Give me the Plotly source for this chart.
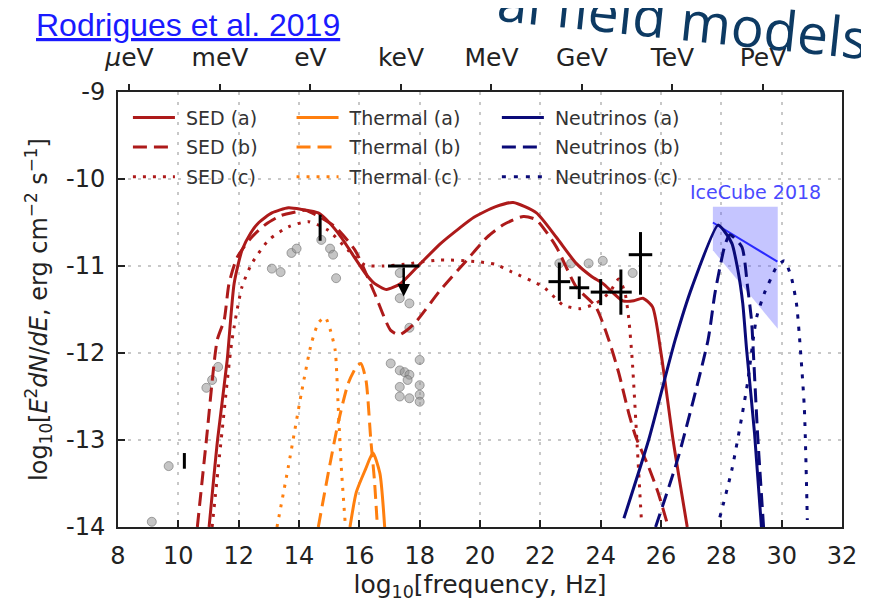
import plotly.graph_objects as go

# ---------------- data ----------------
sed_a_x = [11.02, 11.3, 11.62, 11.85, 12.11, 12.4, 12.67, 13.1, 13.65, 14.1, 14.64, 15.0, 15.4, 15.8, 16.19, 16.5, 16.9, 17.37, 18.03, 18.7, 19.3, 19.8, 20.5, 21.1, 21.87, 22.53, 23.19, 23.7, 24.07, 24.73, 25.1, 25.4, 25.72, 26.0, 26.4, 26.87]
sed_a_y = [-14.0, -13.0, -12.08, -11.2, -10.82, -10.62, -10.5, -10.39, -10.33, -10.35, -10.39, -10.5, -10.67, -10.88, -11.08, -11.2, -11.27, -11.2, -10.97, -10.74, -10.57, -10.44, -10.32, -10.27, -10.39, -10.67, -10.97, -11.12, -11.2, -11.4, -11.4, -11.37, -11.47, -12.0, -13.0, -14.0]

sed_b_x = [10.63, 10.93, 11.29, 11.52, 11.68, 11.95, 12.4, 12.9, 13.4, 13.88, 14.2, 14.6, 15.2, 15.86, 16.5, 17.04, 17.33, 17.83, 18.68, 19.57, 20.23, 20.8, 21.44, 21.87, 22.53, 23.19, 23.84, 24.27, 24.6, 24.93, 25.16, 25.59, 25.9, 26.2]
sed_b_y = [-14.0, -13.0, -11.85, -11.62, -11.2, -10.9, -10.68, -10.52, -10.42, -10.38, -10.36, -10.42, -10.55, -10.82, -11.31, -11.74, -11.79, -11.66, -11.28, -10.93, -10.67, -10.52, -10.43, -10.47, -10.78, -11.24, -11.47, -11.85, -12.23, -12.69, -12.96, -13.31, -13.6, -13.95]

sed_c_x = [11.12, 11.45, 11.78, 12.11, 12.44, 13.0, 13.65, 14.31, 14.97, 15.63, 16.19, 16.8, 17.5, 18.68, 19.9, 20.5, 21.0, 22.1, 22.76, 23.3, 23.84, 24.3, 24.6, 24.8, 24.93, 25.05, 25.2, 25.35]
sed_c_y = [-14.0, -12.9, -11.85, -11.24, -10.97, -10.7, -10.55, -10.49, -10.59, -10.82, -10.99, -11.0, -10.98, -10.93, -10.95, -10.98, -11.06, -11.24, -11.45, -11.49, -11.43, -11.3, -11.15, -11.3, -11.6, -12.1, -13.0, -13.92]

th_a_x = [15.69, 15.9, 16.2, 16.45, 16.68, 16.84]
th_a_y = [-14.0, -13.6, -13.34, -13.15, -13.38, -14.0]

th_b_x = [14.64, 14.97, 15.3, 15.63, 15.9, 16.05, 16.22, 16.38, 16.5, 16.6]
th_b_y = [-14.0, -13.38, -12.8, -12.35, -12.16, -12.12, -12.31, -13.0, -13.46, -14.0]

th_c_x = [13.27, 13.65, 14.08, 14.41, 14.65, 14.87, 15.05, 15.2, 15.3, 15.4, 15.53]
th_c_y = [-14.0, -13.3, -12.46, -11.89, -11.65, -11.59, -11.75, -11.97, -12.62, -13.3, -13.95]

nu_a_x = [24.77, 25.59, 26.47, 27.03, 27.89, 28.1, 28.35, 28.55, 28.71, 28.84, 29.1, 29.33]
nu_a_y = [-13.9, -13.0, -11.85, -11.24, -10.53, -10.6, -10.74, -11.05, -11.43, -11.97, -12.92, -14.0]

nu_b_x = [25.82, 26.57, 27.56, 27.79, 28.12, 28.28, 28.68, 28.87, 29.0, 29.04, 29.2, 29.4]
nu_b_y = [-14.0, -13.2, -11.85, -11.31, -10.76, -10.64, -10.78, -11.24, -11.62, -11.85, -12.92, -14.0]

nu_c_x = [27.95, 28.35, 28.68, 28.87, 29.17, 29.43, 29.66, 29.83, 30.09, 30.32, 30.49, 30.58, 30.75, 30.85]
nu_c_y = [-13.89, -13.34, -12.73, -12.34, -11.59, -11.31, -11.13, -11.01, -10.94, -11.13, -11.43, -11.77, -12.62, -13.92]

icecube_band_x = [27.72, 29.87, 29.87, 27.72, 27.72]
icecube_band_y = [-10.32, -10.32, -11.72, -10.82, -10.32]
icecube_fit_x = [27.72, 29.86]
icecube_fit_y = [-10.5, -10.95]

cross_x = [22.63, 23.29, 24.0, 24.67, 25.32]
cross_y = [-11.18, -11.25, -11.3, -11.3, -10.87]
cross_xerr = [0.36, 0.33, 0.33, 0.36, 0.39]
cross_yerr_up = [0.22, 0.13, 0.15, 0.26, 0.26]
cross_yerr_dn = [0.22, 0.13, 0.15, 0.26, 0.46]

bar_x = [10.2, 14.7]
bar_y = [-13.24, -10.56]
bar_yerr = [0.09, 0.15]

ul_x = [17.47]
ul_y = [-11.0]
ul_xerr = [0.52]
ul_arrow_end = [-11.35]

gray_x = [9.12, 9.68, 10.93, 11.12, 11.32, 13.1, 13.39, 13.75, 13.92, 14.74, 15.03, 15.13, 15.23,
          17.34, 17.34, 17.66, 17.66, 17.04, 17.34, 17.5, 17.66, 17.6, 18.0, 17.34, 18.0, 17.34, 17.66, 18.0, 18.0,
          22.63, 23.02, 23.6, 24.07, 25.06]
gray_y = [-13.94, -13.3, -12.4, -12.31, -12.16, -11.03, -11.07, -10.85, -10.8, -10.7, -10.8, -10.87, -11.14,
          -11.08, -11.37, -11.43, -11.71, -12.12, -12.2, -12.22, -12.25, -12.31, -12.08, -12.39, -12.37, -12.5, -12.52, -12.48, -12.56,
          -10.97, -10.97, -10.97, -10.94, -11.08]

energy_pos = [8.38, 11.38, 14.38, 17.38, 20.38, 23.38, 26.38, 29.38]
energy_lbl = ["<i>μ</i>eV", "meV", "eV", "keV", "MeV", "GeV", "TeV", "PeV"]

x_ticks = list(range(8, 33, 2))
y_ticks = [-9, -10, -11, -12, -13, -14]
y_ticklbl = ["-9", "-10", "-11", "-12", "-13", "-14"]

# ---------------- styles ----------------
RED = "#ad1a1a"
ORANGE = "#ff7f0e"
NAVY = "#0a0a78"
DASH = "14px,7px"
DOT = "3px,7px"
FONT = "DejaVu Sans"
SP = "&nbsp;"

fig = go.Figure()

fig.add_trace(go.Scatter(x=icecube_band_x, y=icecube_band_y, mode="lines", fill="toself",
                         fillcolor="rgba(90,90,255,0.35)", line=dict(width=0), showlegend=False, hoverinfo="skip"))
fig.add_trace(go.Scatter(x=icecube_fit_x, y=icecube_fit_y, mode="lines",
                         line=dict(color="#2a2aff", width=2), showlegend=False))

fig.add_trace(go.Scatter(x=gray_x, y=gray_y, mode="markers", showlegend=False,
                         marker=dict(size=9, color="rgba(140,140,140,0.5)",
                                     line=dict(color="rgba(110,110,110,0.6)", width=1))))

def line(x, y, color, dash, name, legend, group):
    fig.add_trace(go.Scatter(x=x, y=y, mode="lines", name=SP + name, legend=legend, legendgroup=group,
                             line=dict(color=color, width=3, dash=dash, shape="spline", smoothing=0.6)))

line(sed_a_x, sed_a_y, RED, "solid", "SED (a)", "legend", "sa")
line(sed_b_x, sed_b_y, RED, DASH, "SED (b)", "legend", "sb")
line(sed_c_x, sed_c_y, RED, DOT, "SED (c)", "legend", "sc")
line(th_a_x, th_a_y, ORANGE, "solid", "Thermal (a)", "legend2", "ta")
line(th_b_x, th_b_y, ORANGE, DASH, "Thermal (b)", "legend2", "tb")
line(th_c_x, th_c_y, ORANGE, DOT, "Thermal (c)", "legend2", "tc")
line(nu_a_x, nu_a_y, NAVY, "solid", "Neutrinos (a)", "legend3", "na")
line(nu_b_x, nu_b_y, NAVY, DASH, "Neutrinos (b)", "legend3", "nb")
line(nu_c_x, nu_c_y, NAVY, "4px,8px", "Neutrinos (c)", "legend3", "nc")

# black data points
fig.add_trace(go.Scatter(x=cross_x, y=cross_y, mode="markers", showlegend=False,
                         marker=dict(size=1, color="black"),
                         error_x=dict(type="data", array=cross_xerr, color="black", thickness=3, width=0),
                         error_y=dict(type="data", array=cross_yerr_up, arrayminus=cross_yerr_dn,
                                      color="black", thickness=3, width=0)))
fig.add_trace(go.Scatter(x=bar_x, y=bar_y, mode="markers", showlegend=False,
                         marker=dict(size=1, color="black"),
                         error_y=dict(type="data", array=bar_yerr, color="black", thickness=3, width=0)))
fig.add_trace(go.Scatter(x=ul_x, y=ul_y, mode="markers", showlegend=False,
                         marker=dict(size=1, color="black"),
                         error_x=dict(type="data", array=ul_xerr, color="black", thickness=3, width=0)))
for xv, yv, ye in zip(ul_x, ul_y, ul_arrow_end):
    fig.add_annotation(x=xv, y=ye, ax=xv, ay=yv, xref="x", yref="y", axref="x", ayref="y",
                       showarrow=True, arrowhead=2, arrowsize=1, arrowwidth=2.5, arrowcolor="black", text="")

# invisible trace for top axis
fig.add_trace(go.Scatter(x=[8, 32], y=[-14, -14], xaxis="x2", mode="markers",
                         marker=dict(opacity=0), showlegend=False, hoverinfo="skip"))

axis_common = dict(showline=True, linecolor="#222", linewidth=2, mirror=True,
                   ticks="inside", ticklen=7, tickwidth=2, tickcolor="#222",
                   tickfont=dict(family=FONT, size=24, color="#222"),
                   showgrid=True, gridcolor="#c8c8c8", gridwidth=1.5, griddash="3px,7px",
                   zeroline=False)

leg_font = dict(family=FONT, size=19, color="#333")

fig.update_layout(
    width=861, height=598,
    margin=dict(l=110, r=21, t=84, b=79),
    paper_bgcolor="white", plot_bgcolor="white",
    font=dict(family=FONT, color="#222"),
    xaxis=dict(range=[8, 32], tickvals=x_ticks, **axis_common, ticklabelstandoff=6,
               title=dict(text="log<sub>10</sub>[frequency, Hz]", font=dict(family=FONT, size=25, color="#222"), standoff=2)),
    xaxis2=dict(range=[8, 32], overlaying="x", side="top", tickvals=energy_pos, ticktext=energy_lbl,
                ticks="outside", ticklen=7, tickwidth=2, tickcolor="#222", showgrid=False, showline=False,
                ticklabelstandoff=8,
                tickfont=dict(family=FONT, size=25, color="#222"), zeroline=False),
    yaxis=dict(range=[-14, -9], tickvals=y_ticks, ticktext=y_ticklbl, **axis_common, ticklabelstandoff=6,
               title=dict(text="log<sub>10</sub>[<i>E</i><sup>2</sup><i>dN</i>/<i>dE</i>, erg cm<sup>−2</sup> s<sup>−1</sup>]",
                          font=dict(family=FONT, size=24, color="#222"), standoff=12)),
    legend=dict(x=0.0137, y=0.985, xanchor="left", yanchor="top", bgcolor="rgba(0,0,0,0)",
                font=leg_font, tracegroupgap=2, itemwidth=42),
    legend2=dict(x=0.2397, y=0.985, xanchor="left", yanchor="top", bgcolor="rgba(0,0,0,0)",
                 font=leg_font, tracegroupgap=2, itemwidth=42),
    legend3=dict(x=0.5233, y=0.985, xanchor="left", yanchor="top", bgcolor="rgba(0,0,0,0)",
                 font=leg_font, tracegroupgap=2, itemwidth=42),
)

fig.add_annotation(x=29.14, y=-10.15, xref="x", yref="y", text="IceCube 2018", showarrow=False,
                   font=dict(family=FONT, size=19, color="#4a4aff"))

fig.add_annotation(x=-0.1164, y=1.153, xref="paper", yref="paper", xanchor="left", yanchor="middle",
                   text="<u>Rodrigues et al. 2019</u>", showarrow=False,
                   font=dict(family="Liberation Sans", size=32, color="#1a1aff"))

fig.add_annotation(x=0.78, y=1.17, xref="paper", yref="paper", xanchor="center", yanchor="middle",
                   text="al field models", showarrow=False, textangle=6,
                   font=dict(family="Open Sans", size=55, color="#0d3a63"))

fig.write_html("out.html")
